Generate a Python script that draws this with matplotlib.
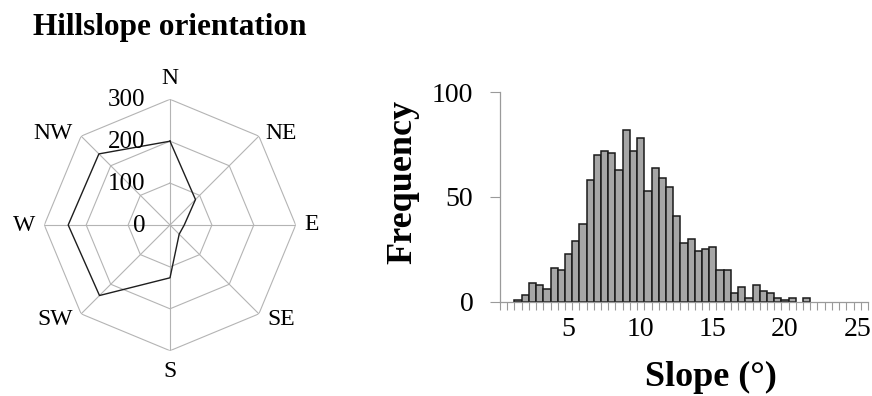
import numpy as np
import matplotlib
matplotlib.use("Agg")
import matplotlib.pyplot as plt

plt.rcParams["font.family"] = ["Liberation Serif", "DejaVu Serif"]

# hillslope orientation: number of hillslopes per aspect class
DIRECTIONS    = ["N", "NE", "E", "SE", "S", "SW", "W", "NW"]
ASPECT_COUNTS = [200, 86, 34, 31, 126, 238, 243, 240]
RINGS         = [100, 200, 300]
RING_LABELS   = ["0", "100", "200", "300"]

# slope histogram: 0.5 degree classes, each labelled by its upper bound
SLOPE_CLASSES = [round(0.5 * (i + 1), 1) for i in range(51)]
SLOPE_FREQ = [0, 0, 1, 3, 9, 8, 6, 16, 15, 23,
              29, 37, 58, 70, 72, 71, 63, 82, 72, 78,
              53, 64, 59, 55, 41, 28, 30, 24, 25, 26,
              15, 15, 4, 7, 2, 8, 5, 4, 2, 1,
              2, 0, 2, 0, 0, 0, 0, 0, 0, 0, 0]
SLOPE_TICKS = [5, 10, 15, 20, 25]
FREQ_TICKS  = [0, 50, 100]

W, H = 872, 396
GRID = "#b4b4b4"
AXIS = "#9a9a9a"

# where each compass label sits relative to its outer vertex (pixels, ha)
LABEL_OFFSETS = {"N": (0, 21, "center"), "NE": (6, 3, "left"),
                 "E": (9, 0, "left"), "SE": (8, -6, "left"),
                 "S": (0, -21, "center"), "SW": (-8, -6, "right"),
                 "W": (-9, 0, "right"), "NW": (-9, 3, "right")}

fig = plt.figure(figsize=(W / 100, H / 100), dpi=100)

fig.text(33 / W, 1 - 27 / H, "Hillslope orientation", fontsize=22.5,
         fontweight="bold", va="center", ha="left")

# ---- radar of aspect classes
cx, cy, R = 170, 225, 125.7
ax1 = fig.add_axes([(cx - R) / W, 1 - (cy + R) / H, 2 * R / W, 2 * R / H],
                   projection="polar")
ax1.set_theta_zero_location("N")
ax1.set_theta_direction(-1)
theta = np.deg2rad(np.arange(len(DIRECTIONS)) * 360.0 / len(DIRECTIONS))
closed = np.append(theta, theta[0])
for r in RINGS:
    ax1.plot(closed, [r] * len(closed), color=GRID, lw=0.8)
for t in theta:
    ax1.plot([t, t], [0, RINGS[-1]], color=GRID, lw=0.8)
ax1.plot(closed, ASPECT_COUNTS + ASPECT_COUNTS[:1], color="#1e1e1e", lw=1.0)
ax1.set_ylim(0, RINGS[-1])
ax1.grid(False)
ax1.set_xticks([])
ax1.set_yticks([])
ax1.spines["polar"].set_visible(False)
ax1.patch.set_visible(False)
for t, name in zip(theta, DIRECTIONS):
    dx, dy, ha = LABEL_OFFSETS[name]
    ax1.annotate(name, xy=(t, RINGS[-1]), xytext=(dx, dy),
                 textcoords="offset pixels", fontsize=17, ha=ha, va="center",
                 annotation_clip=False)
for val, lab in zip([0] + RINGS, RING_LABELS):
    ax1.annotate(lab, xy=(0, val), xytext=(-25, -1), textcoords="offset pixels",
                 fontsize=18, ha="right", va="center")

# ---- slope histogram
ax2 = fig.add_axes([500 / W, 1 - 301.7 / H, 368 / W, 209.4 / H])
idx = np.arange(len(SLOPE_CLASSES))
keep = [i for i in idx if SLOPE_FREQ[i] > 0]
ax2.bar(keep, [SLOPE_FREQ[i] for i in keep], width=1.0, color="#a6a6a6",
        edgecolor="#1a1a1a", linewidth=1.1, zorder=1)
ax2.set_xlim(-0.5, len(SLOPE_CLASSES) - 0.5)
ax2.set_ylim(0, 100)
ax2.set_yticks(FREQ_TICKS)
ax2.set_yticklabels([str(v) for v in FREQ_TICKS], fontsize=20)
ax2.set_xticks(np.arange(len(SLOPE_CLASSES) + 1) - 0.5)
ax2.set_xticklabels([])
ax2.set_xticks([SLOPE_CLASSES.index(t) for t in SLOPE_TICKS], minor=True)
ax2.set_xticklabels([str(t) for t in SLOPE_TICKS], minor=True, fontsize=20)
ax2.tick_params(axis="x", which="major", direction="out", length=5.4,
                width=0.8, color=AXIS)
ax2.tick_params(axis="x", which="minor", length=0, pad=11)
ax2.tick_params(axis="y", direction="out", length=7.2, width=0.8,
                color=AXIS, pad=12)
for s in ("top", "right"):
    ax2.spines[s].set_visible(False)
for s in ("left", "bottom"):
    ax2.spines[s].set_color(AXIS)
    ax2.spines[s].set_linewidth(0.9)

fig.text(403 / W, 1 - 182 / H, "Frequency", fontsize=26, fontweight="bold",
         rotation=90, ha="center", va="center")
fig.text(711 / W, 1 - 377 / H, "Slope (°)", fontsize=26, fontweight="bold",
         ha="center", va="center")

fig.savefig("out.png", dpi=100)
